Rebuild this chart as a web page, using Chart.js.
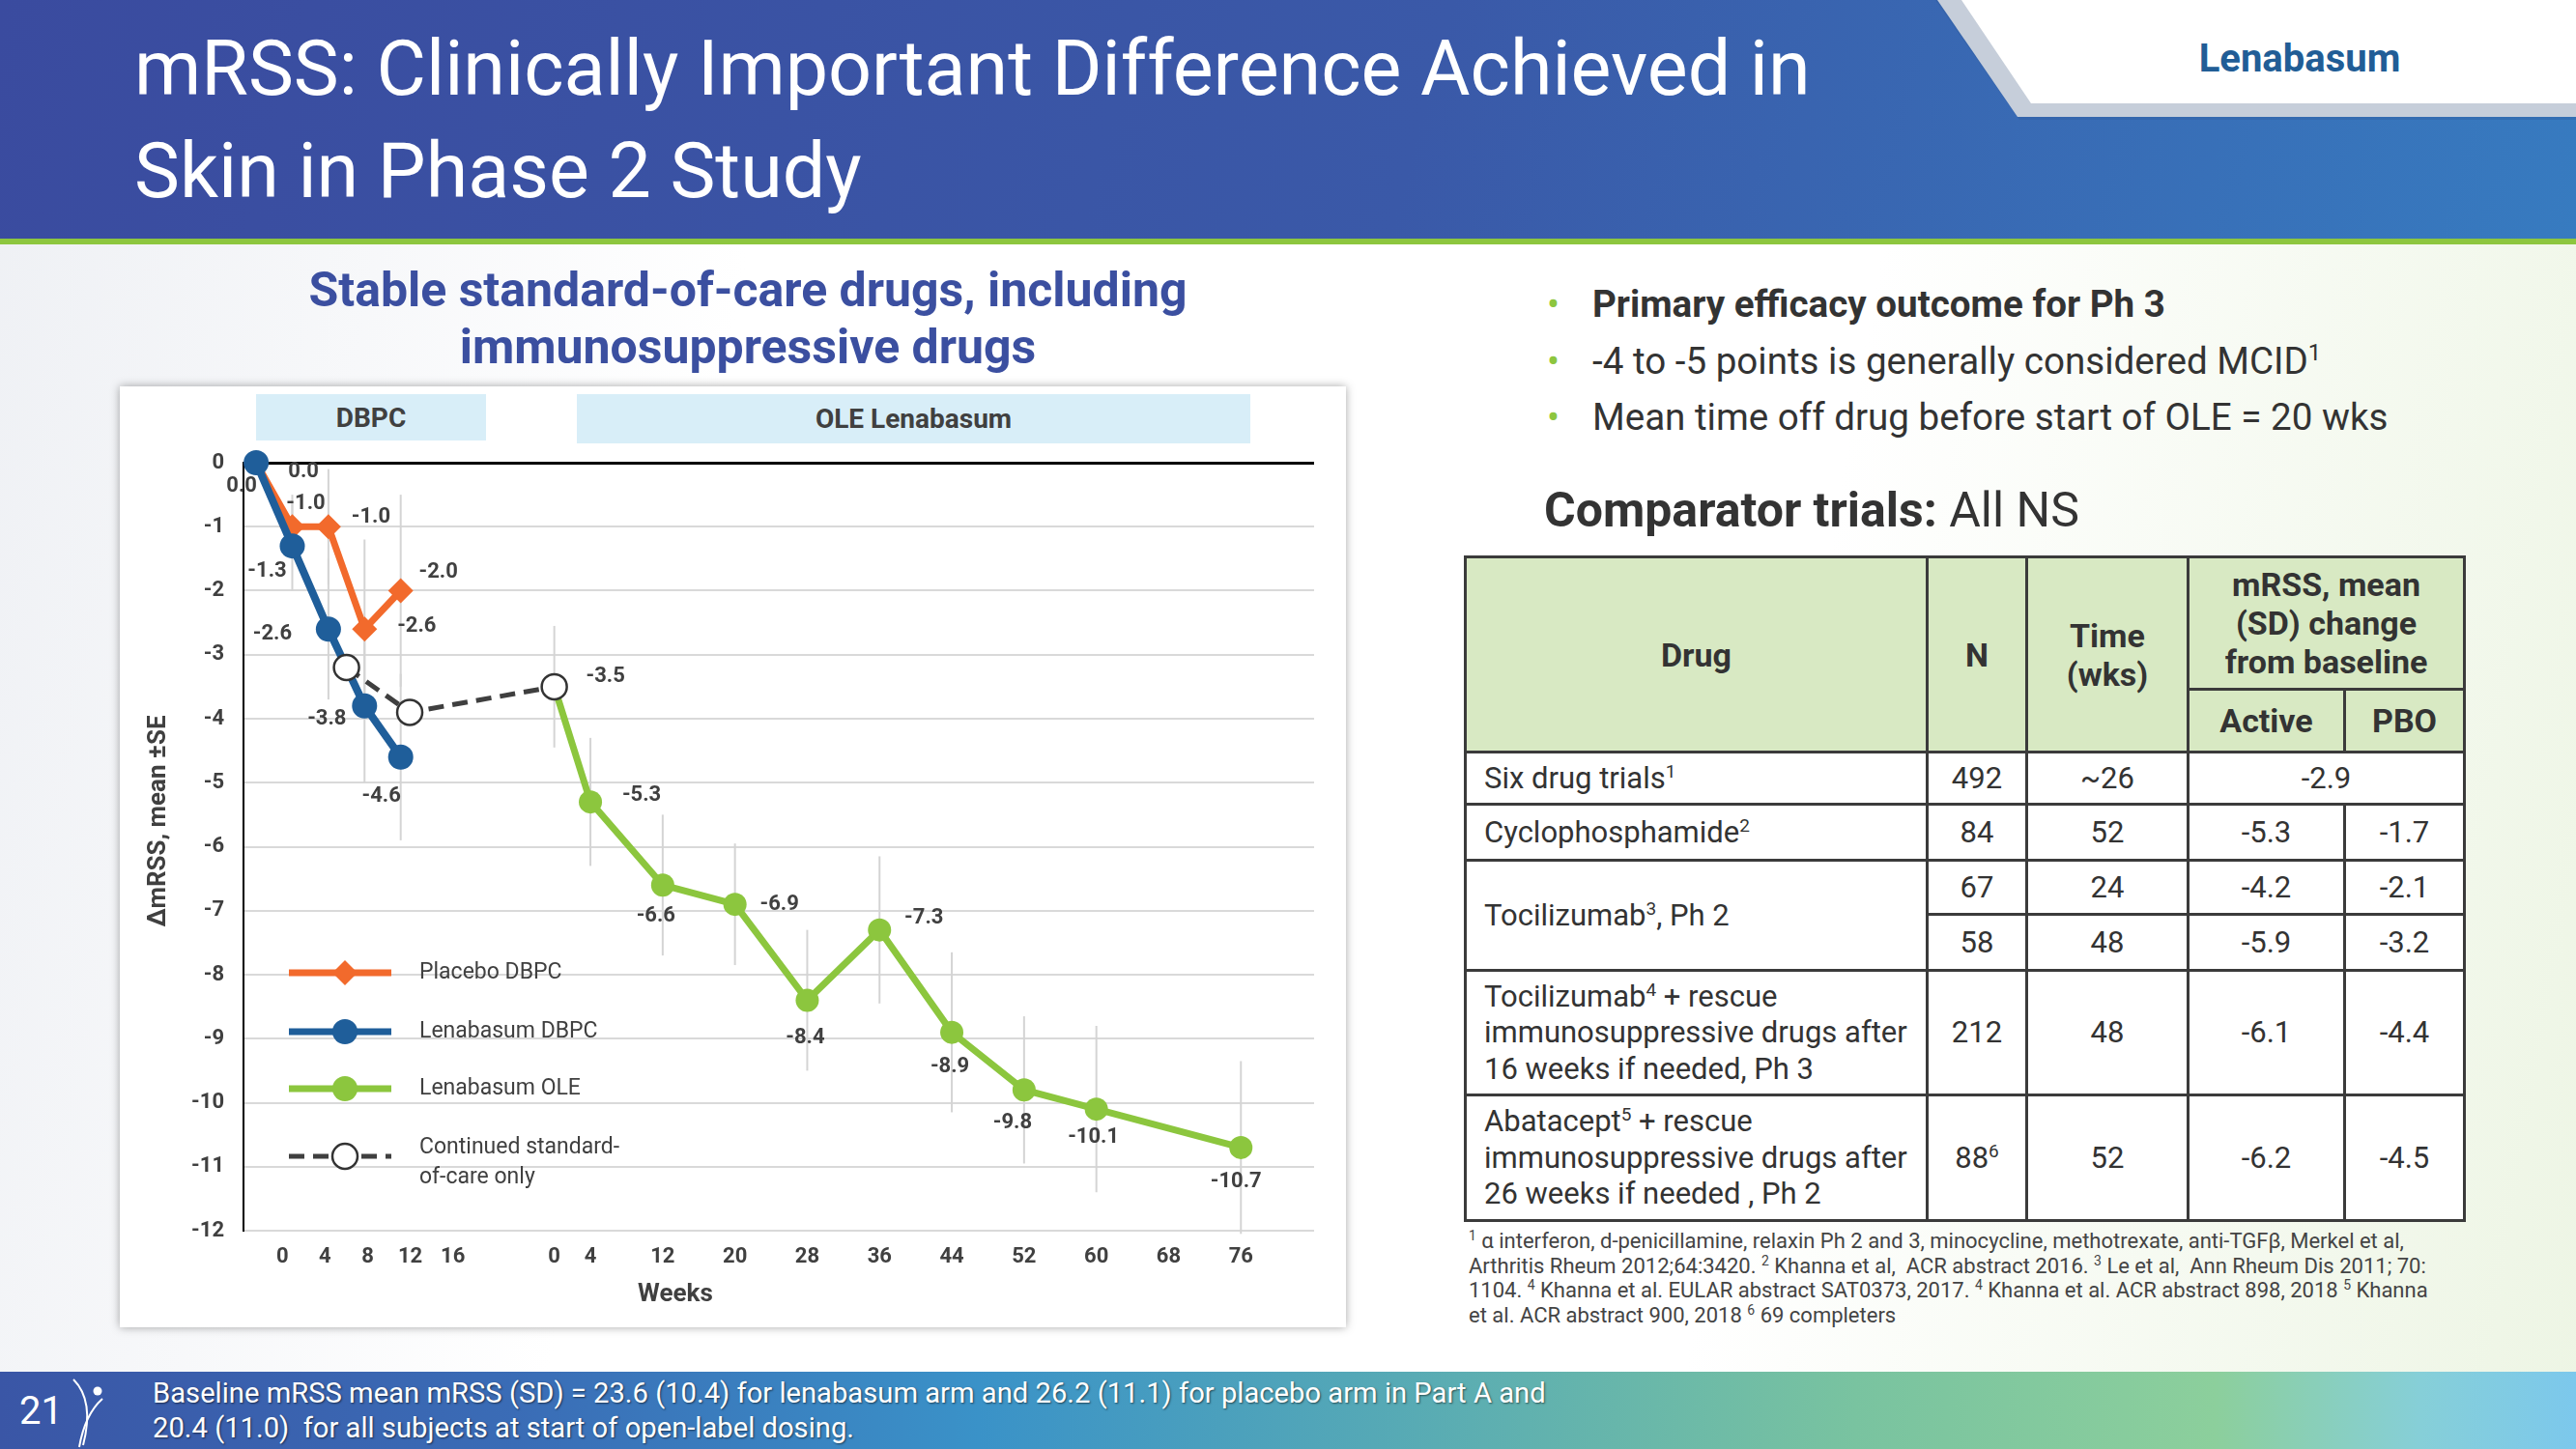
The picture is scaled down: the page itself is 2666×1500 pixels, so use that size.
<!DOCTYPE html>
<html>
<head>
<meta charset="utf-8">
<script src="https://cdn.jsdelivr.net/npm/chart.js"></script>
<style>
  html, body { margin: 0; padding: 0; }
  body {
    width: 2666px; height: 1500px; position: relative; overflow: hidden;
    font-family: Roboto, sans-serif; color: #333;
    background: linear-gradient(100deg, #eef0f4 0%, #ffffff 28%, #ffffff 68%, #edf5e4 100%);
  }
  .header {
    position: absolute; left: 0; top: 0; width: 2666px; height: 248px;
    background: linear-gradient(105deg, #3a4b9f 0%, #3a59a8 55%, #377bc0 100%);
  }
  .greenline { position: absolute; left: 0; top: 247px; width: 2666px; height: 6px; background: #8dc63f; }
  .title { position: absolute; left: 139px; top: 18px; color: #fff; font-size: 79px; line-height: 106px; }
  .tab { position: absolute; left: 0; top: 0; }
  .brand { position: absolute; left: 2230px; top: 37px; width: 300px; text-align: center;
    font-weight: 700; font-size: 40px; color: #215d96; }
  .subtitle { position: absolute; left: 274px; top: 271px; width: 1000px; text-align: center;
    font-weight: 700; font-size: 50px; line-height: 59px; color: #3b4fa0; }
  .bullets { position: absolute; left: 1601px; top: 286px; font-size: 38.6px; line-height: 58.5px; color: #333; }
  .bullets div { height: 58.5px; }
  .bullets .dot { display: inline-block; width: 47px; color: #8dc63f; }
  .bullets sup { font-size: 24px; vertical-align: 14px; line-height: 0; }
  .comp { position: absolute; left: 1598px; top: 499px; font-size: 50px; color: #333; }
  table.cmp { position: absolute; left: 1515px; top: 575px; width: 1034px; border-collapse: collapse;
    table-layout: fixed; font-size: 31px; color: #333; background: #fff; }
  table.cmp th, table.cmp td { border: 3px solid #3b3b3b; padding: 0 18px; }
  table.cmp th { background: #d8e9c3; font-weight: 700; font-size: 34px; line-height: 40px; text-align: center; }
  table.cmp td { line-height: 37.5px; text-align: center; }
  table.cmp td.l { text-align: left; }
  table.cmp sup { font-size: 19px; vertical-align: 11px; line-height: 0; }
  .notes { position: absolute; left: 1520px; top: 1272px; font-size: 22px; line-height: 25.5px; color: #444; }
  .notes sup { font-size: 14px; vertical-align: 8px; line-height: 0; }
  .banner { position: absolute; left: 0; top: 1420px; width: 2666px; height: 80px;
    background: linear-gradient(90deg, #3a56a6 0%, #3a6cb6 20%, #3a92c8 38%, #58abb4 55%, #79c3a0 72%, #8ccf9c 86%, #86cfd8 94%, #7cc8ec 100%); }
  .pagenum { position: absolute; left: 20px; top: 1437px; font-size: 40px; color: #fff; }
  .foot { position: absolute; left: 158px; top: 1424px; font-size: 29.2px; line-height: 36px; color: #fff;
    text-shadow: 1px 1px 2px rgba(0,0,0,0.55); }
  .chartbox { position: absolute; left: 124px; top: 400px; width: 1269px; height: 974px; background: #fff;
    box-shadow: 0 0 9px rgba(0,0,0,0.35); }
  .phase { position: absolute; background: #d8eef8; color: #404040; font-weight: 700; font-size: 28px;
    display: flex; align-items: center; justify-content: center; }
</style>
</head>
<body>
<div class="header"></div>
<div class="greenline"></div>
<svg class="tab" width="2666" height="140">
  <polygon points="2003,0 2666,0 2666,124 2090,124" fill="#2f5d9e" opacity="0.35"/>
  <polygon points="2005,0 2666,0 2666,121 2088,121" fill="#c6ceda"/>
  <polygon points="2030,0 2666,0 2666,107 2102,107" fill="#ffffff"/>
</svg>
<div class="brand">Lenabasum</div>
<div class="title">mRSS: Clinically Important Difference Achieved in<br>Skin in Phase 2 Study</div>

<div class="subtitle">Stable standard-of-care drugs, including<br>immunosuppressive drugs</div>

<div class="chartbox">
  <div class="phase" style="left:141px;top:8px;width:238px;height:48px;">DBPC</div>
  <div class="phase" style="left:473px;top:8px;width:697px;height:51px;">OLE Lenabasum</div>
  <canvas id="mrssChart"></canvas>
</div>

<div class="bullets">
  <div><span class="dot">&#8226;</span><b>Primary efficacy outcome for Ph 3</b></div>
  <div><span class="dot">&#8226;</span>-4 to -5 points is generally considered MCID<sup>1</sup></div>
  <div><span class="dot">&#8226;</span>Mean time off drug before start of OLE = 20 wks</div>
</div>
<div class="comp"><b>Comparator trials:</b> All NS</div>

<table class="cmp">
  <colgroup><col style="width:478px"><col style="width:103px"><col style="width:167px"><col style="width:162px"><col style="width:124px"></colgroup>
  <tr style="height:137px"><th rowspan="2">Drug</th><th rowspan="2" style="padding:0">N</th><th rowspan="2" style="padding:0">Time<br>(wks)</th><th colspan="2" style="padding:0">mRSS, mean<br>(SD) change<br>from baseline</th></tr>
  <tr style="height:65px"><th style="padding:0">Active</th><th style="padding:0">PBO</th></tr>
  <tr style="height:54px"><td class="l">Six drug trials<sup>1</sup></td><td>492</td><td>~26</td><td colspan="2">-2.9</td></tr>
  <tr style="height:58px"><td class="l">Cyclophosphamide<sup>2</sup></td><td>84</td><td>52</td><td>-5.3</td><td>-1.7</td></tr>
  <tr style="height:56px"><td class="l" rowspan="2">Tocilizumab<sup>3</sup>, Ph 2</td><td>67</td><td>24</td><td>-4.2</td><td>-2.1</td></tr>
  <tr style="height:58px"><td>58</td><td>48</td><td>-5.9</td><td>-3.2</td></tr>
  <tr style="height:129px"><td class="l">Tocilizumab<sup>4</sup> + rescue<br>immunosuppressive drugs after<br>16 weeks if needed, Ph 3</td><td>212</td><td>48</td><td>-6.1</td><td>-4.4</td></tr>
  <tr style="height:130px"><td class="l">Abatacept<sup>5</sup> + rescue<br>immunosuppressive drugs after<br>26 weeks if needed , Ph 2</td><td>88<sup>6</sup></td><td>52</td><td>-6.2</td><td>-4.5</td></tr>
</table>

<div class="notes">
  <sup>1</sup> &alpha; interferon, d-penicillamine, relaxin Ph 2 and 3, minocycline, methotrexate, anti-TGF&beta;, Merkel et al,<br>
  Arthritis Rheum 2012;64:3420. <sup>2</sup> Khanna et al,&nbsp; ACR abstract 2016. <sup>3</sup> Le et al,&nbsp; Ann Rheum Dis 2011; 70:<br>
  1104. <sup>4</sup> Khanna et al. EULAR abstract SAT0373, 2017. <sup>4</sup> Khanna et al. ACR abstract 898, 2018 <sup>5</sup> Khanna<br>
  et al. ACR abstract 900, 2018 <sup>6</sup> 69 completers
</div>

<div class="banner"></div>
<div class="pagenum">21</div>
<svg style="position:absolute;left:0;top:1420px" width="140" height="80">
  <path d="M76 8 Q98 30 86 76" stroke="#fff" stroke-width="2" fill="none"/>
  <path d="M106 28 Q88 44 82 78" stroke="#fff" stroke-width="2" fill="none"/>
  <circle cx="101" cy="20" r="4.5" fill="#fff"/>
</svg>
<div class="foot">Baseline mRSS mean mRSS (SD) = 23.6 (10.4) for lenabasum arm and 26.2 (11.1) for placebo arm in Part A and<br>20.4 (11.0)&nbsp; for all subjects at start of open-label dosing.</div>

<script>
// weeks and mean change in mRSS
const dbpcWeeks = [0, 4, 8, 12, 16];
const placeboDbpc = [0.0, -1.0, -1.0, -2.6, -2.0];
const placeboSe = [0, 0.5, 0.9, 1.4, 1.5];
const lenabasumDbpc = [0.0, -1.3, -2.6, -3.8, -4.6];
const lenabasumSe = [0, 0.7, 1.1, 1.2, 1.3];

const oleWeeks = [0, 4, 12, 20, 28, 36, 44, 52, 60, 76];
const lenabasumOle = [-3.5, -5.3, -6.6, -6.9, -8.4, -7.3, -8.9, -9.8, -10.1, -10.7];
const oleSe = [0.95, 1.0, 1.1, 0.95, 1.1, 1.15, 1.25, 1.15, 1.3, 1.35];

// continued standard-of-care: weeks on the study timeline (last point = OLE start)
const socWeeks = [10, 17, 33];
const socValues = [-3.2, -3.9, -3.5];

const dbpcTickLabels = ['0', '4', '8', '12', '16'];
const oleTickLabels = ['0', '4', '12', '20', '28', '36', '44', '52', '60', '68', '76'];
const legendLabels = ['Placebo DBPC', 'Lenabasum DBPC', 'Lenabasum OLE', ['Continued standard-', 'of-care only']];

// layout: where OLE week 0 sits on the drawn timeline, and the shifted DBPC tick labels
const OLE_START = 33;
const dbpcTickAt = w => 2.9 + w * 1.18;

const ORANGE = '#f26a2c', BLUE = '#1f5e9a', GREEN = '#8cc63e', DARK = '#404040';

const pts = (xs, ys, shift) => xs.map((x, i) => ({ x: x + (shift || 0), y: ys[i] }));

// label offsets in px from each point
const labelOffsets = {
  placebo: [[49, 9], [14, -24], [44, -10], [54, -3], [39, -19]],
  lenabasum: [[-15, 24], [-26, 26], [-58, 5], [-39, 14], [-20, 41]],
  ole: [null, [53, -7], [-7, 32], [46, 0], [-2, 39], [46, -12], [-2, 36], [-12, 34], [-3, 29], [-5, 36]],
  soc: [null, null, [53, -10]]
};

const tickValues = dbpcWeeks.map(dbpcTickAt).concat(oleTickLabels.map(l => OLE_START + Number(l)));
const tickText = dbpcTickLabels.concat(oleTickLabels);

const overlay = {
  id: 'overlay',
  beforeDatasetsDraw(chart) {
    const ctx = chart.ctx, y = chart.scales.y;
    ctx.save();
    ctx.strokeStyle = '#d4d4d4';
    ctx.lineWidth = 2;
    chart.data.datasets.forEach((ds, di) => {
      if (!ds.se) return;
      const meta = chart.getDatasetMeta(di);
      ds.se.forEach((se, i) => {
        if (!se) return;
        const p = meta.data[i], v = ds.data[i].y;
        ctx.beginPath();
        ctx.moveTo(p.x, y.getPixelForValue(v + se));
        ctx.lineTo(p.x, y.getPixelForValue(v - se));
        ctx.stroke();
      });
    });
    ctx.restore();
  },
  afterDatasetsDraw(chart) {
    const ctx = chart.ctx, x = chart.scales.x, area = chart.chartArea;
    ctx.save();
    ctx.fillStyle = DARK;
    ctx.font = 'bold 22px Roboto';
    ctx.textAlign = 'center';
    ctx.textBaseline = 'middle';
    chart.data.datasets.forEach((ds, di) => {
      const offs = labelOffsets[ds.key];
      const meta = chart.getDatasetMeta(di);
      ds.data.forEach((d, i) => {
        const o = offs[i];
        if (!o) return;
        const p = meta.data[i];
        ctx.fillText(d.y.toFixed(1), p.x + o[0], p.y + o[1]);
      });
    });

    // axis title and x title
    ctx.font = 'bold 26px Roboto';
    ctx.fillText('Weeks', x.getPixelForValue(46.4), area.bottom + 66);
    ctx.save();
    ctx.translate(40, 450);
    ctx.rotate(-Math.PI / 2);
    ctx.fillText('\u0394mRSS, mean \u00b1SE', 0, 0);
    ctx.restore();

    // legend
    const rows = [607, 668, 727, 797];
    const lx0 = 175, lx1 = 281, mx = 233;
    chart.data.datasets.forEach((ds, di) => {
      const ly = rows[ds.legendRow];
      ctx.save();
      ctx.strokeStyle = ds.borderColor;
      ctx.lineWidth = ds.key === 'soc' ? 5 : 7;
      ctx.setLineDash(ds.borderDash || []);
      ctx.beginPath();
      ctx.moveTo(lx0, ly);
      ctx.lineTo(lx1, ly);
      ctx.stroke();
      ctx.setLineDash([]);
      ctx.fillStyle = ds.pointBackgroundColor;
      ctx.beginPath();
      if (ds.pointStyle === 'rectRot') {
        const r = 13;
        ctx.moveTo(mx, ly - r); ctx.lineTo(mx + r, ly); ctx.lineTo(mx, ly + r); ctx.lineTo(mx - r, ly);
        ctx.closePath();
      } else {
        ctx.arc(mx, ly, 13, 0, Math.PI * 2);
      }
      ctx.fill();
      if (ds.key === 'soc') {
        ctx.lineWidth = 2.5;
        ctx.strokeStyle = '#333';
        ctx.stroke();
      }
      ctx.restore();
      ctx.font = '23px Roboto';
      ctx.textAlign = 'left';
      const lab = legendLabels[ds.legendRow];
      if (Array.isArray(lab)) {
        ctx.fillText(lab[0], 310, ly - 9);
        ctx.fillText(lab[1], 310, ly + 22);
      } else {
        ctx.fillText(lab, 310, ly);
      }
    });
    ctx.restore();
  }
};

new Chart(document.getElementById('mrssChart'), {
  type: 'line',
  data: {
    datasets: [
      {
        key: 'soc', legendRow: 3, order: 0,
        data: pts(socWeeks, socValues),
        borderColor: '#3f3f3f', borderWidth: 5, borderDash: [16, 9],
        pointRadius: 13, pointBackgroundColor: '#ffffff', pointBorderColor: '#333', pointBorderWidth: 2.5
      },
      {
        key: 'lenabasum', legendRow: 1, order: 1,
        data: pts(dbpcWeeks, lenabasumDbpc), se: lenabasumSe,
        borderColor: BLUE, borderWidth: 8,
        pointRadius: 13, pointBackgroundColor: BLUE, pointBorderWidth: 0
      },
      {
        key: 'placebo', legendRow: 0, order: 2,
        data: pts(dbpcWeeks, placeboDbpc), se: placeboSe,
        borderColor: ORANGE, borderWidth: 7,
        pointStyle: 'rectRot', pointRadius: 13, pointBackgroundColor: ORANGE, pointBorderWidth: 0
      },
      {
        key: 'ole', legendRow: 2, order: 3,
        data: pts(oleWeeks, lenabasumOle, OLE_START), se: oleSe,
        borderColor: GREEN, borderWidth: 7,
        pointRadius: lenabasumOle.map((v, i) => i === 0 ? 0 : 12), pointBackgroundColor: GREEN, pointBorderWidth: 0
      }
    ]
  },
  options: {
    responsive: true,
    maintainAspectRatio: false,
    animation: false,
    layout: { padding: { top: 79, right: 33, left: 0, bottom: 0 } },
    plugins: { legend: { display: false }, tooltip: { enabled: false } },
    elements: { line: { tension: 0 } },
    datasets: { line: { clip: false } },
    scales: {
      x: {
        type: 'linear', min: -1.4, max: 117.1,
        afterBuildTicks: s => { s.ticks = tickValues.map(v => ({ value: v })); },
        afterFit: s => { s.height = 100; },
        grid: { display: false, drawTicks: false },
        border: { display: false },
        ticks: {
          autoSkip: false, maxRotation: 0, padding: 14,
          color: DARK, font: { family: 'Roboto', size: 22, weight: 'bold' },
          callback: (v, i) => tickText[i]
        }
      },
      y: {
        min: -12, max: 0,
        afterFit: s => { s.width = 128; },
        grid: {
          drawTicks: false,
          color: c => c.tick.value === 0 ? '#000000' : '#d9d9d9',
          lineWidth: c => c.tick.value === 0 ? 3 : 2
        },
        border: { color: '#000000', width: 2 },
        ticks: {
          stepSize: 1, padding: 20,
          color: DARK, font: { family: 'Roboto', size: 22, weight: 'bold' }
        }
      }
    }
  },
  plugins: [overlay]
});
</script>
</body>
</html>
